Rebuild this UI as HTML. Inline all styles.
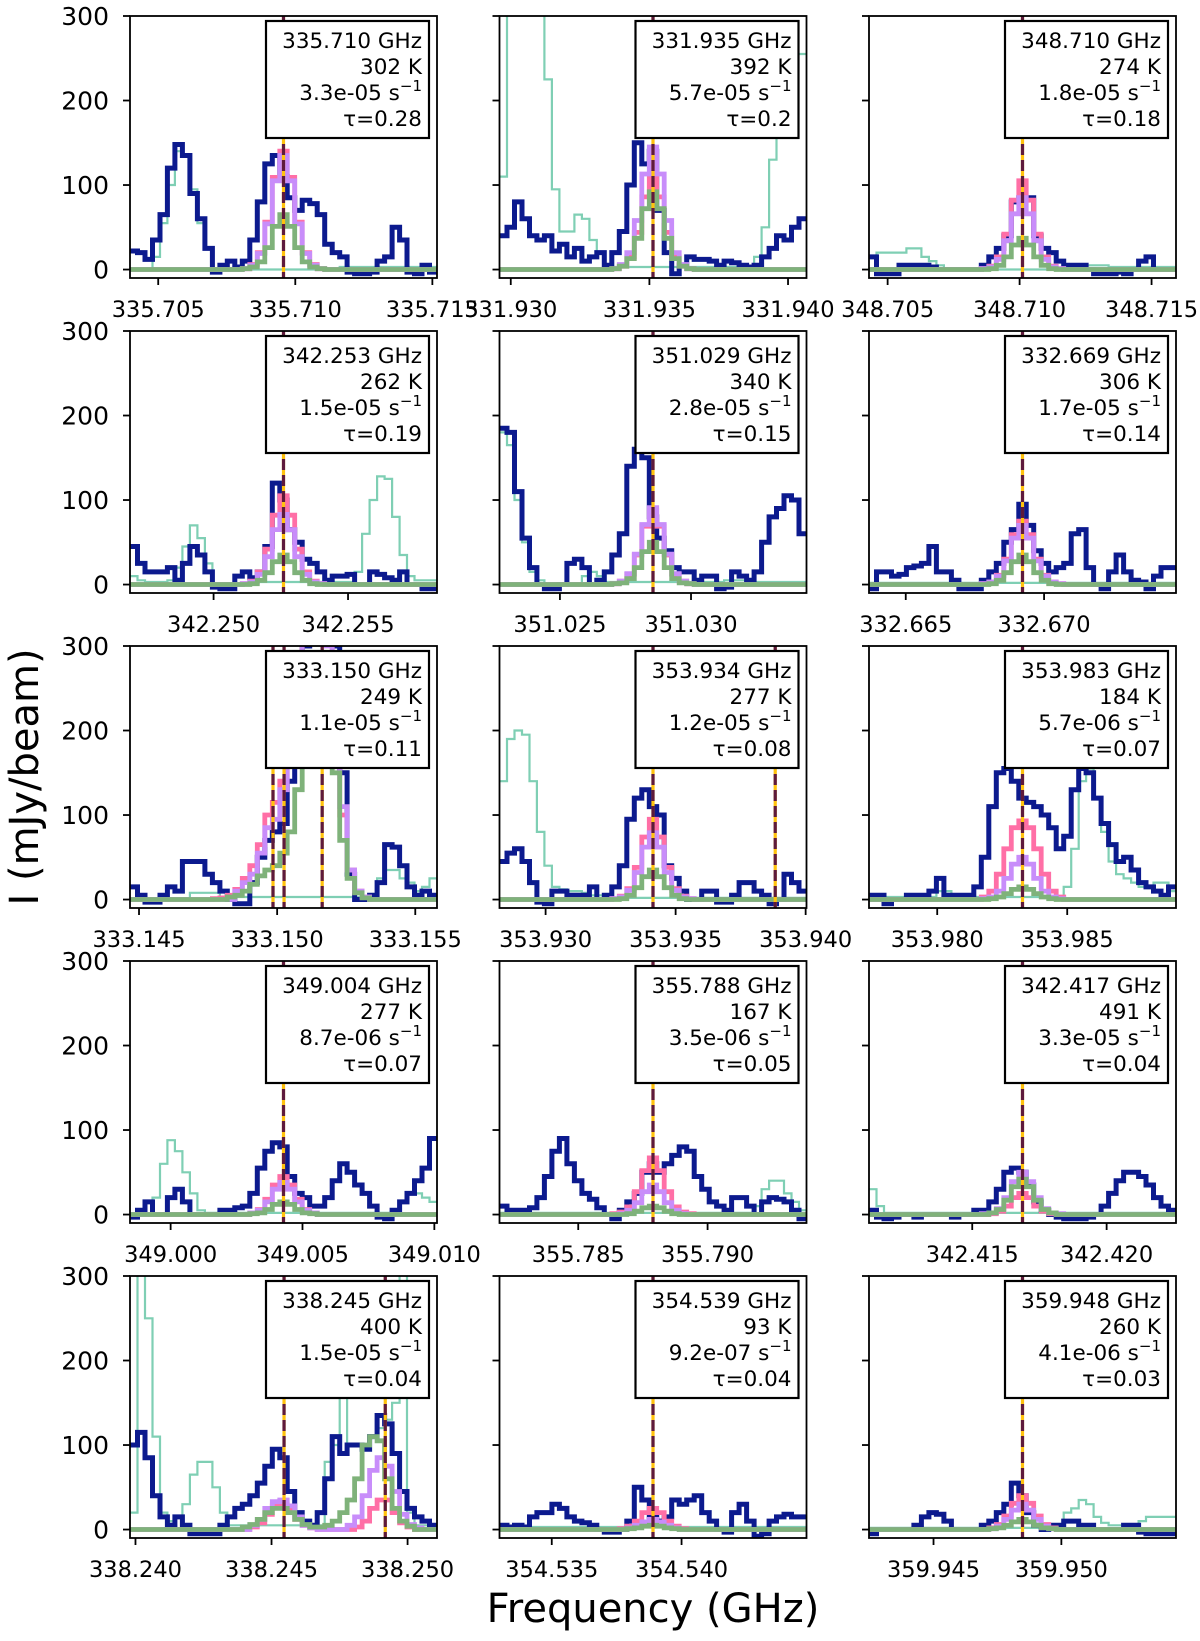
<!DOCTYPE html>
<html><head><meta charset="utf-8"><style>
html,body{margin:0;padding:0;background:#fff;}
svg{display:block;font-family:"DejaVu Sans","Liberation Sans",sans-serif;}
</style></head><body>
<svg id="chart" width="1200" height="1641" viewBox="0 0 1200 1641" xmlns="http://www.w3.org/2000/svg">
<rect x="0" y="0" width="1200" height="1641" fill="#fff"/>
<text x="653" y="1622" font-size="40" text-anchor="middle">Frequency (GHz)</text>
<text transform="translate(38,777) rotate(-90)" font-size="40" text-anchor="middle">I (mJy/beam)</text>
</svg>
<script>
const centers=[335.70957,331.93513,348.71011,342.2526,351.02855,332.66922,333.15023,353.93413,353.98328,349.00428,355.78789,342.41687,338.24544,354.5389,359.94848];
const freqLabels=['335.710','331.935','348.710','342.253','351.029','332.669','333.150','353.934','353.983','349.004','355.788','342.417','338.245','354.539','359.948'];
const eupLabels=['302','392','274','262','340','306','249','277','184','277','167','491','400','93','260'];
const aulLabels=['3.3e-05','5.7e-05','1.8e-05','1.5e-05','2.8e-05','1.7e-05','1.1e-05','1.2e-05','5.7e-06','8.7e-06','3.5e-06','3.3e-05','1.5e-05','9.2e-07','4.1e-06'];
const tauLabels=['0.28','0.2','0.18','0.19','0.15','0.14','0.11','0.08','0.07','0.07','0.05','0.04','0.04','0.04','0.03'];
const markerLines=[[335.70957],[331.93513],[348.71011],[342.2526],[351.02855],[332.66922],[333.14985,333.15025,333.15163],[353.93413,353.93883],[353.98328],[349.00428],[355.78789],[342.41687],[338.24546,338.24918],[354.5389],[359.94848]];
const yTicks=[0,100,200,300];
const obsData=[
[22,20,12,35,65,120,148,135,90,60,25,-3,5,10,3,10,35,80,125,135,110,85,70,82,78,65,30,20,15,-3,-5,-5,-3,10,15,50,35,-3,-5,5,-3],
[40,50,80,60,40,35,40,22,30,15,25,10,15,20,5,20,45,100,150,125,140,70,20,-5,5,15,12,12,10,5,10,8,5,3,5,15,25,40,35,50,60],
[15,-5,-5,-5,5,5,5,5,3,0,0,0,0,0,0,5,15,25,40,80,85,85,40,25,20,10,5,5,5,0,-5,-5,-5,-3,-5,0,10,15,0,0,0],
[45,25,15,15,15,20,5,25,45,35,15,-3,-5,-5,10,15,8,15,45,120,100,65,50,30,25,15,5,10,10,12,0,0,15,12,8,5,15,0,0,-5,-5],
[185,180,110,55,20,0,-5,-5,0,25,30,20,0,5,15,35,60,140,160,150,80,55,40,20,15,15,5,10,10,-5,-3,15,10,5,15,50,80,90,105,100,60],
[-5,15,15,10,12,20,22,25,45,15,15,5,-5,-5,-5,5,15,25,50,65,95,70,40,25,15,20,25,60,65,20,0,-5,15,35,15,5,3,-5,10,20,20],
[15,5,-3,-3,5,15,10,45,45,45,30,20,10,0,-5,-5,20,50,70,80,90,140,220,300,320,320,320,300,150,30,0,0,5,20,65,62,40,15,5,10,5],
[45,55,60,45,20,-3,-5,10,10,5,5,5,15,0,5,15,40,95,120,130,110,100,40,25,10,0,0,10,10,-3,-3,5,20,20,10,5,-5,0,30,20,10],
[5,5,-5,0,0,5,5,5,10,25,5,5,5,5,15,50,110,150,155,140,120,115,110,100,85,60,75,130,155,150,120,90,65,45,50,35,20,15,10,5,15],
[-3,5,15,0,0,20,30,15,0,0,0,0,5,5,8,10,25,55,75,85,80,45,25,20,10,10,20,40,60,50,35,25,10,-3,-5,5,15,25,40,55,90],
[10,5,5,5,8,20,45,75,90,60,40,25,18,8,0,-5,5,15,25,50,60,50,60,70,80,75,45,30,15,10,5,20,20,10,0,15,20,18,15,5,-5],
[5,-3,-5,-3,0,0,-3,0,0,0,0,-3,0,0,5,5,15,30,50,55,50,35,15,5,0,-3,-5,-5,-5,-3,0,10,25,40,50,50,45,35,20,10,5],
[100,115,85,40,15,5,15,5,-5,-5,-5,-5,5,15,25,30,40,55,75,95,85,45,20,10,5,20,60,110,90,100,100,95,110,135,125,90,45,25,15,10,5],
[5,3,5,3,15,20,20,30,25,15,10,8,5,0,-3,-3,0,10,50,35,15,10,15,35,30,35,40,20,10,0,-3,20,30,10,-8,-5,10,15,18,15,15],
[-5,0,0,0,0,0,5,15,20,18,10,0,0,0,0,5,10,20,30,55,40,20,5,0,5,5,10,10,5,5,0,0,0,0,5,5,-3,-5,-5,-5,-5]
];
const compData=[
[0,0,0,15,55,100,140,135,95,55,25,0,0,0,0,0,0,0,0,0,0,0,0,0,0,0,0,0,3,3,3,3,3,3,3,3,3,3,3,3,3],
[110,400,400,400,400,400,225,95,45,45,65,60,35,20,3,3,3,3,3,3,3,3,3,3,3,3,3,3,3,3,3,3,3,3,15,50,130,200,250,255,255],
[15,20,20,20,20,25,25,15,10,5,0,0,0,0,0,0,0,0,0,0,0,0,0,0,0,0,0,5,5,5,5,5,3,3,3,3,3,3,3,3,3],
[10,5,3,3,3,5,20,45,70,55,25,0,0,0,0,0,0,3,3,3,3,3,3,3,3,3,3,3,3,3,15,60,100,128,125,80,35,10,5,5,5],
[180,165,100,50,15,5,0,0,0,0,0,10,15,10,3,3,3,3,3,3,3,3,3,3,3,3,3,3,3,3,5,5,5,5,3,3,3,3,3,3,3],
[2,2,2,2,2,2,2,2,2,2,2,2,2,2,2,2,2,2,2,2,2,2,2,2,2,2,2,2,2,2,2,2,2,2,2,2,2,2,2,2,2],
[0,0,0,0,0,0,0,0,8,8,8,8,3,3,3,3,3,3,3,3,3,3,3,3,3,3,3,3,3,3,3,3,3,25,35,35,25,20,10,15,25],
[140,190,200,195,140,80,40,15,12,10,10,8,5,5,5,2,2,2,2,2,2,2,2,2,2,2,2,2,2,2,2,2,2,2,2,2,2,2,2,2,2],
[3,3,3,3,3,3,3,3,3,10,10,3,3,3,3,3,3,3,3,3,3,3,3,3,3,3,15,60,140,155,120,80,45,30,25,20,15,15,20,20,10],
[0,0,0,20,60,88,75,50,25,5,2,2,2,2,2,2,2,2,2,2,2,2,2,2,2,2,2,2,2,2,2,2,2,2,2,5,15,25,25,20,15],
[2,2,2,2,2,2,2,2,2,2,2,2,2,2,2,2,2,2,2,2,2,2,2,2,2,2,2,2,2,2,2,2,2,2,10,30,40,40,25,15,5],
[30,10,2,2,2,2,2,2,2,2,2,2,2,2,2,2,2,2,2,2,2,2,2,2,2,2,2,2,2,2,2,2,2,2,2,2,2,2,2,2,2],
[20,320,250,110,20,10,15,30,65,80,80,50,20,5,5,5,5,5,5,5,5,5,5,5,5,5,80,100,160,100,100,100,110,120,130,150,320,20,5,5,5],
[3,3,3,3,3,3,3,3,3,3,3,3,3,3,3,3,3,3,3,3,3,3,3,3,3,3,3,3,3,3,3,3,3,3,3,3,3,3,3,3,3],
[2,2,2,2,2,2,2,2,2,2,2,2,2,2,2,2,2,2,2,2,2,2,2,2,2,2,20,25,35,30,15,8,5,5,5,5,10,15,15,15,15]
];
const modelPink=[
[0,0,0,0,0,0,0,0,0,0,0,0,0,0,0,1,6,20,56,109,140,109,56,20,6,1,0,0,0,0,0,0,0,0,0,0,0,0,0,0,0],
[0,0,0,0,0,0,0,0,0,0,0,0,0,0,0,1,4,15,44,86,110,86,44,15,4,1,0,0,0,0,0,0,0,0,0,0,0,0,0,0,0],
[0,0,0,0,0,0,0,0,0,0,0,0,0,0,0,1,4,15,42,82,105,82,42,15,4,1,0,0,0,0,0,0,0,0,0,0,0,0,0,0,0],
[0,0,0,0,0,0,0,0,0,0,0,0,0,0,0,1,4,15,42,82,105,82,42,15,4,1,0,0,0,0,0,0,0,0,0,0,0,0,0,0,0],
[0,0,0,0,0,0,0,0,0,0,0,0,0,0,0,1,4,12,35,69,88,69,35,12,4,1,0,0,0,0,0,0,0,0,0,0,0,0,0,0,0],
[0,0,0,0,0,0,0,0,0,0,0,0,0,0,0,1,3,11,30,59,75,59,30,11,3,1,0,0,0,0,0,0,0,0,0,0,0,0,0,0,0],
[0,0,0,0,0,0,0,0,0,0,0,1,2,5,12,25,40,65,100,115,140,200,260,320,330,330,310,220,100,35,10,3,0,0,0,0,0,0,0,0,0],
[0,0,0,0,0,0,0,0,0,0,0,0,0,0,0,1,4,13,38,74,95,74,38,13,4,1,0,0,0,0,0,0,0,0,0,0,0,0,0,0,0],
[0,0,0,0,0,0,0,0,0,0,0,0,0,0,0,3,10,30,60,85,93,85,60,30,10,3,0,0,0,0,0,0,0,0,0,0,0,0,0,0,0],
[0,0,0,0,0,0,0,0,0,0,0,0,0,0,0,0,2,6,18,35,45,35,18,6,2,0,0,0,0,0,0,0,0,0,0,0,0,0,0,0,0],
[0,0,0,0,0,0,0,0,0,0,0,0,0,0,0,1,3,9,27,52,67,52,27,9,3,1,0,0,0,0,0,0,0,0,0,0,0,0,0,0,0],
[0,0,0,0,0,0,0,0,0,0,0,0,0,0,0,0,1,4,10,20,25,20,10,4,1,0,0,0,0,0,0,0,0,0,0,0,0,0,0,0,0],
[0,0,0,0,0,0,0,0,0,0,0,0,0,0,0,0,3,8,18,28,30,25,12,5,2,0,0,0,0,0,3,10,25,35,35,20,8,3,0,0,0],
[0,0,0,0,0,0,0,0,0,0,0,0,0,0,0,0,1,4,10,20,25,20,10,4,1,0,0,0,0,0,0,0,0,0,0,0,0,0,0,0,0],
[0,0,0,0,0,0,0,0,0,0,0,0,0,0,0,0,2,6,16,31,40,31,16,6,2,0,0,0,0,0,0,0,0,0,0,0,0,0,0,0,0]
];
const modelPurple=[
[0,0,0,0,0,0,0,0,0,0,0,0,0,0,0,1,5,19,54,105,135,105,54,19,5,1,0,0,0,0,0,0,0,0,0,0,0,0,0,0,0],
[0,0,0,0,0,0,0,0,0,0,0,0,0,0,0,1,6,20,58,113,145,113,58,20,6,1,0,0,0,0,0,0,0,0,0,0,0,0,0,0,0],
[0,0,0,0,0,0,0,0,0,0,0,0,0,0,0,1,3,12,34,66,85,66,34,12,3,1,0,0,0,0,0,0,0,0,0,0,0,0,0,0,0],
[0,0,0,0,0,0,0,0,0,0,0,0,0,0,0,1,3,12,33,65,83,65,33,12,3,1,0,0,0,0,0,0,0,0,0,0,0,0,0,0,0],
[0,0,0,0,0,0,0,0,0,0,0,0,0,0,0,1,4,13,36,71,91,71,36,13,4,1,0,0,0,0,0,0,0,0,0,0,0,0,0,0,0],
[0,0,0,0,0,0,0,0,0,0,0,0,0,0,0,1,3,10,28,55,70,55,28,10,3,1,0,0,0,0,0,0,0,0,0,0,0,0,0,0,0],
[0,0,0,0,0,0,0,0,0,0,0,0,0,0,10,20,30,55,85,95,130,190,250,320,330,330,300,240,110,35,10,3,0,0,0,0,0,0,0,0,0],
[0,0,0,0,0,0,0,0,0,0,0,0,0,0,0,1,3,11,32,62,79,62,32,11,3,1,0,0,0,0,0,0,0,0,0,0,0,0,0,0,0],
[0,0,0,0,0,0,0,0,0,0,0,0,0,0,0,1,3,10,25,42,50,42,25,10,3,1,0,0,0,0,0,0,0,0,0,0,0,0,0,0,0],
[0,0,0,0,0,0,0,0,0,0,0,0,0,0,0,0,2,5,15,30,38,30,15,5,2,0,0,0,0,0,0,0,0,0,0,0,0,0,0,0,0],
[0,0,0,0,0,0,0,0,0,0,0,0,0,0,0,0,1,5,14,27,35,27,14,5,1,0,0,0,0,0,0,0,0,0,0,0,0,0,0,0,0],
[0,0,0,0,0,0,0,0,0,0,0,0,0,0,0,1,2,7,20,39,50,39,20,7,2,1,0,0,0,0,0,0,0,0,0,0,0,0,0,0,0],
[0,0,0,0,0,0,0,0,0,0,0,0,0,0,0,0,5,12,25,33,35,28,15,5,2,0,0,0,0,5,15,40,70,85,75,45,18,6,2,0,0],
[0,0,0,0,0,0,0,0,0,0,0,0,0,0,0,0,0,2,5,9,12,9,5,2,0,0,0,0,0,0,0,0,0,0,0,0,0,0,0,0,0],
[0,0,0,0,0,0,0,0,0,0,0,0,0,0,0,0,1,4,12,23,30,23,12,4,1,0,0,0,0,0,0,0,0,0,0,0,0,0,0,0,0]
];
const modelGreen=[
[0,0,0,0,0,0,0,0,0,0,0,0,0,0,0,1,3,9,26,51,65,51,26,9,3,1,0,0,0,0,0,0,0,0,0,0,0,0,0,0,0],
[0,0,0,0,0,0,0,0,0,0,0,0,0,0,0,1,4,13,37,72,92,72,37,13,4,1,0,0,0,0,0,0,0,0,0,0,0,0,0,0,0],
[0,0,0,0,0,0,0,0,0,0,0,0,0,0,0,0,1,5,15,29,37,29,15,5,1,0,0,0,0,0,0,0,0,0,0,0,0,0,0,0,0],
[0,0,0,0,0,0,0,0,0,0,0,0,0,0,0,0,1,5,14,27,35,27,14,5,1,0,0,0,0,0,0,0,0,0,0,0,0,0,0,0,0],
[0,0,0,0,0,0,0,0,0,0,0,0,0,0,0,1,2,7,20,39,50,39,20,7,2,1,0,0,0,0,0,0,0,0,0,0,0,0,0,0,0],
[0,0,0,0,0,0,0,0,0,0,0,0,0,0,0,0,1,5,14,27,35,27,14,5,1,0,0,0,0,0,0,0,0,0,0,0,0,0,0,0,0],
[0,0,0,0,0,0,0,0,0,0,0,0,0,3,5,10,18,28,35,40,55,80,130,190,230,250,220,150,70,25,8,2,0,0,0,0,0,0,0,0,0],
[0,0,0,0,0,0,0,0,0,0,0,0,0,0,0,0,1,5,14,27,35,27,14,5,1,0,0,0,0,0,0,0,0,0,0,0,0,0,0,0,0],
[0,0,0,0,0,0,0,0,0,0,0,0,0,0,0,0,1,3,7,12,15,12,7,3,1,0,0,0,0,0,0,0,0,0,0,0,0,0,0,0,0],
[0,0,0,0,0,0,0,0,0,0,0,0,0,0,0,0,1,2,6,12,15,12,6,2,1,0,0,0,0,0,0,0,0,0,0,0,0,0,0,0,0],
[0,0,0,0,0,0,0,0,0,0,0,0,0,0,0,0,0,1,4,8,10,8,4,1,0,0,0,0,0,0,0,0,0,0,0,0,0,0,0,0,0],
[0,0,0,0,0,0,0,0,0,0,0,0,0,0,0,0,2,6,17,33,42,33,17,6,2,0,0,0,0,0,0,0,0,0,0,0,0,0,0,0,0],
[0,0,0,0,0,0,0,0,0,0,0,0,0,0,0,3,6,12,20,25,25,20,12,6,3,3,5,10,20,35,60,100,110,105,60,25,10,4,0,0,0],
[0,0,0,0,0,0,0,0,0,0,0,0,0,0,0,0,0,1,2,4,5,4,2,1,0,0,0,0,0,0,0,0,0,0,0,0,0,0,0,0,0],
[0,0,0,0,0,0,0,0,0,0,0,0,0,0,0,0,1,2,5,9,12,9,5,2,1,0,0,0,0,0,0,0,0,0,0,0,0,0,0,0,0]
];

const NS='http://www.w3.org/2000/svg';
const svg=document.getElementById('chart');
const colLeft=[130,499.5,869], rowTop=[16,331,646,961,1276], PW=307, PH=262;
const YMIN=-10, YMAX=300, NCH=41, C=299792.458;
function mk(tag,attrs,parent){const e=document.createElementNS(NS,tag);for(const k in attrs)e.setAttribute(k,attrs[k]);(parent||svg).appendChild(e);return e;}

centers.forEach((f0,p)=>{
  const L=colLeft[p%3], T=rowTop[Math.floor(p/3)];
  const span=f0*10/C, fmin=f0-span/2, dv=span/NCH;
  const xs=f=>L+(f-fmin)/span*PW;
  const ys=v=>T+(YMAX-v)/(YMAX-YMIN)*PH;
  const g=mk('g',{});
  
  
  const cp=mk('clipPath',{id:'cp'+p},g);
  mk('rect',{x:L,y:T,width:PW,height:PH},cp);
  const plot=mk('g',{'clip-path':'url(#cp'+p+')'},g);
  function stepPath(arr,color,w,name){
    let d='';
    for(let i=0;i<NCH;i++){
      const v=Math.max(Math.min(arr[i]||0,400),-50);
      const x0=xs(f0+(i-20.5)*dv), x1=xs(f0+(i-19.5)*dv), y=ys(v);
      d+=(i===0?'M':'L')+x0.toFixed(1)+' '+y.toFixed(1)+'H'+x1.toFixed(1);
    }
    const e=mk('path',{d:d,fill:'none',stroke:color,'stroke-width':w,'stroke-linejoin':'miter'},plot);
    
    
  }
  stepPath(compData[p],'#7fcfb4',2.2,'comparison-spectrum');
  stepPath(obsData[p],'#0c1a8e',5,'observed-spectrum');
  stepPath(modelPink[p],'#ff6fa6',4.8,'model-pink');
  stepPath(modelPurple[p],'#c88dfa',4.8,'model-purple');
  stepPath(modelGreen[p],'#7fb27a',4.8,'model-green');
  markerLines[p].forEach(fl=>{
    const x=xs(fl);
    const a=mk('line',{x1:x,x2:x,y1:T,y2:T+PH,stroke:'#ffc20e','stroke-width':3.2},plot);
    
    
    const b=mk('line',{x1:x,x2:x,y1:T,y2:T+PH,stroke:'#5e1a3c','stroke-width':3.2,'stroke-dasharray':'11 5'},plot);
    
    
  });
  const fr=mk('rect',{x:L,y:T,width:PW,height:PH,fill:'none',stroke:'#000','stroke-width':1.8},g);
  
  
  yTicks.forEach(v=>{
    const y=ys(v);
    const t=mk('line',{x1:L-7,x2:L,y1:y,y2:y,stroke:'#000','stroke-width':1.8},g);
    
    
    if(p%3===0){
      const tl=mk('text',{x:L-21,y:y+9,'font-size':25,'text-anchor':'end'},g);
      tl.textContent=String(v);
      
      
    }
  });
  const k0=Math.ceil(fmin/0.005-1e-9), k1=Math.floor((fmin+span)/0.005+1e-9);
  for(let k=k0;k<=k1;k++){
    const fv=k*0.005, x=xs(fv);
    const t=mk('line',{x1:x,x2:x,y1:T+PH,y2:T+PH+7,stroke:'#000','stroke-width':1.8},g);
    
    
    const tl=mk('text',{x:x,y:T+PH+39,'font-size':22.5,'text-anchor':'middle'},g);
    tl.textContent=fv.toFixed(3);
    
    
  }
  const box=mk('rect',{x:L+136,y:T+5,width:163,height:117,fill:'#fff',stroke:'#000','stroke-width':2.2},g);
  
  
  const tx=L+292;
  const t1=mk('text',{x:tx,y:T+32,'font-size':21.5,'text-anchor':'end'},g);
  t1.textContent=freqLabels[p]+' GHz';
  
  
  const t2=mk('text',{x:tx,y:T+58,'font-size':21.5,'text-anchor':'end'},g);
  t2.textContent=eupLabels[p]+' K';
  
  
  const t3=mk('text',{x:tx,y:T+84,'font-size':21.5,'text-anchor':'end'},g);
  
  
  const s1=mk('tspan',{},t3); s1.textContent=aulLabels[p]+' s';
  const s2=mk('tspan',{dy:-9,'font-size':15},t3); s2.textContent='\u22121';
  const t4=mk('text',{x:tx,y:T+110,'font-size':21.5,'text-anchor':'end'},g);
  t4.textContent='\u03c4='+tauLabels[p];
  
  
});
</script>
</body></html>
